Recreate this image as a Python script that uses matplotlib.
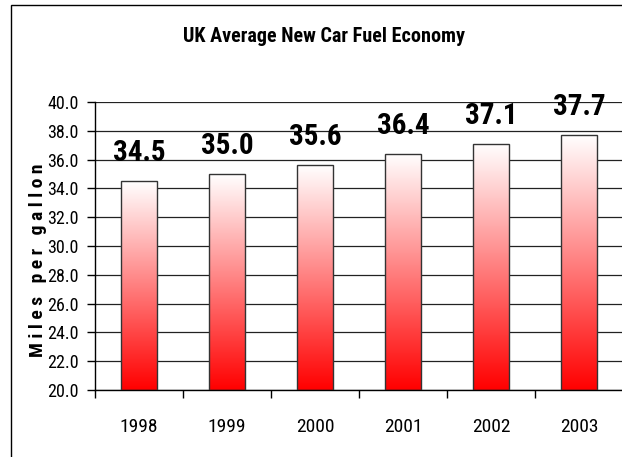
import numpy as np
import matplotlib
matplotlib.use("Agg")
import matplotlib.pyplot as plt
from matplotlib import font_manager
from matplotlib.colors import LinearSegmentedColormap
from matplotlib.patches import Rectangle
from matplotlib.ticker import FixedLocator, MultipleLocator

# chart data
years = ["1998", "1999", "2000", "2001", "2002", "2003"]
mpg = [34.5, 35.0, 35.6, 36.4, 37.1, 37.7]
label_text = ["34.5", "35.0", "35.6", "36.4", "37.1", "37.7"]

# the original uses a narrow Arial, pick the closest narrow face we have
fonts = font_manager.fontManager.ttflist
names = {f.name for f in fonts}
stretch = 'normal'
if 'Liberation Sans Narrow' in names:
    fam = 'Liberation Sans Narrow'
elif 'Roboto Condensed' in names:
    fam = 'Roboto Condensed'
elif any(f.name == 'DejaVu Sans' and f.stretch == 'condensed' for f in fonts):
    fam = 'DejaVu Sans'
    stretch = 'condensed'
else:
    fam = 'Liberation Sans'
plt.rcParams['font.family'] = [fam, 'DejaVu Sans']
plt.rcParams['font.stretch'] = stretch

W, H = 622, 457
fig = plt.figure(figsize=(W / 100, H / 100), dpi=100)

# outer chart border (only left/top edges fall inside the picture)
fig.patches.append(Rectangle((11 / W, -0.1), 1.2, 1 - 5 / H + 0.1,
                             transform=fig.transFigure, fill=False,
                             edgecolor='black', lw=1.0))

ax = fig.add_axes([95 / W, (H - 390) / H, 528 / W, 288 / H])

# red to white gradient for the bars
cmap = LinearSegmentedColormap.from_list("rw", ["#ff0000", "#ffffff"])
grad = np.linspace(0, 1, 256).reshape(-1, 1)
bw = 0.4
x = np.arange(len(years))
ax.bar(x, np.array(mpg) - 20, bottom=20, width=bw,
       facecolor='none', edgecolor='#333333', lw=1.0, zorder=3)
for xi, v in zip(x, mpg):
    ax.imshow(grad, cmap=cmap, origin='lower', aspect='auto',
              extent=(xi - bw / 2, xi + bw / 2, 20, v), zorder=2)

ax.set_xlim(-0.5, len(years) - 0.5)
ax.set_ylim(20, 40)

# value labels above the bars
for xi, v, t in zip(x, mpg, label_text):
    ax.annotate(t, (xi, v), xytext=(0, 10), textcoords='offset points',
                ha='center', va='bottom', fontsize=21, fontweight='bold')

# gridlines
ax.yaxis.set_major_locator(MultipleLocator(2))
ax.yaxis.grid(True, color='#222222', lw=0.9)
ax.set_axisbelow(True)
ax.set_yticklabels([f"{t:.1f}" for t in ax.get_yticks()])

# x ticks at category borders, labels at centres
ax.xaxis.set_major_locator(FixedLocator(np.arange(-0.5, len(years), 1.0)))
ax.xaxis.set_minor_locator(FixedLocator(x))
ax.set_xticklabels([])
ax.set_xticklabels(years, minor=True)
ax.tick_params(axis='x', which='major', length=6, width=1, direction='out')
ax.tick_params(axis='x', which='minor', length=0, pad=20, labelsize=14)
ax.tick_params(axis='y', length=6, width=1, pad=6, labelsize=13)

for s in ['top', 'right']:
    ax.spines[s].set_visible(False)
ax.spines['left'].set_linewidth(1)
ax.spines['bottom'].set_linewidth(1)

ax.set_ylabel("M i l e s   p e r   g a l l o n", fontsize=14,
              fontweight='bold')
ax.yaxis.set_label_coords((47 - 95) / 528, (390 - 260) / 288)

fig.text(324 / W, 1 - 37 / H, "UK Average New Car Fuel Economy", ha='center',
         va='center', fontsize=14.5, fontweight='bold')

fig.savefig("out.png", dpi=100)
